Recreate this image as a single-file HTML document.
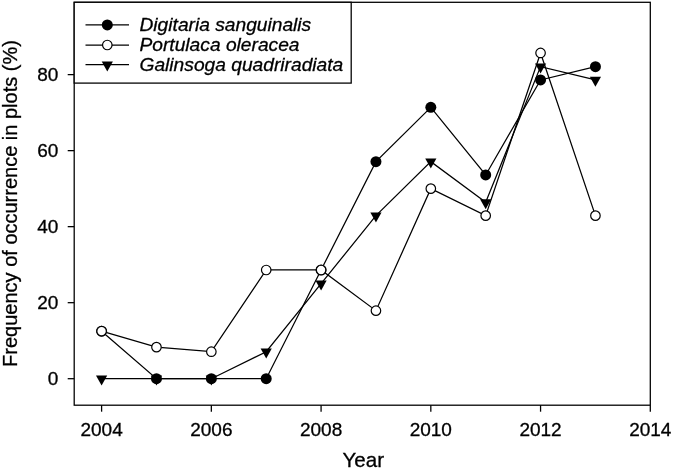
<!DOCTYPE html>
<html><head><meta charset="utf-8"><title>Chart</title>
<style>html,body{margin:0;padding:0;background:#fff}svg{display:block}text{font-family:"Liberation Sans",Arial,sans-serif;fill:#000;stroke:#000;stroke-width:0.3px}</style></head><body>
<svg width="673" height="470" viewBox="0 0 673 470">
<rect width="673" height="470" fill="#fff"/>
<rect x="74.2" y="2.3" width="576.0999999999999" height="402.9" fill="none" stroke="#000" stroke-width="1.28"/>
<line x1="67.7" y1="378.70" x2="74.2" y2="378.70" stroke="#000" stroke-width="1.28"/>
<text x="58.3" y="385.40" font-size="19" text-anchor="end">0</text>
<line x1="67.7" y1="302.68" x2="74.2" y2="302.68" stroke="#000" stroke-width="1.28"/>
<text x="58.3" y="309.38" font-size="19" text-anchor="end">20</text>
<line x1="67.7" y1="226.66" x2="74.2" y2="226.66" stroke="#000" stroke-width="1.28"/>
<text x="58.3" y="233.36" font-size="19" text-anchor="end">40</text>
<line x1="67.7" y1="150.64" x2="74.2" y2="150.64" stroke="#000" stroke-width="1.28"/>
<text x="58.3" y="157.34" font-size="19" text-anchor="end">60</text>
<line x1="67.7" y1="74.62" x2="74.2" y2="74.62" stroke="#000" stroke-width="1.28"/>
<text x="58.3" y="81.32" font-size="19" text-anchor="end">80</text>
<line x1="101.60" y1="405.2" x2="101.60" y2="411.7" stroke="#000" stroke-width="1.28"/>
<text x="101.60" y="435.9" font-size="19" text-anchor="middle">2004</text>
<line x1="211.34" y1="405.2" x2="211.34" y2="411.7" stroke="#000" stroke-width="1.28"/>
<text x="211.34" y="435.9" font-size="19" text-anchor="middle">2006</text>
<line x1="321.08" y1="405.2" x2="321.08" y2="411.7" stroke="#000" stroke-width="1.28"/>
<text x="321.08" y="435.9" font-size="19" text-anchor="middle">2008</text>
<line x1="430.82" y1="405.2" x2="430.82" y2="411.7" stroke="#000" stroke-width="1.28"/>
<text x="430.82" y="435.9" font-size="19" text-anchor="middle">2010</text>
<line x1="540.56" y1="405.2" x2="540.56" y2="411.7" stroke="#000" stroke-width="1.28"/>
<text x="540.56" y="435.9" font-size="19" text-anchor="middle">2012</text>
<line x1="650.30" y1="405.2" x2="650.30" y2="411.7" stroke="#000" stroke-width="1.28"/>
<text x="650.30" y="435.9" font-size="19" text-anchor="middle">2014</text>
<polyline fill="none" stroke="#000" stroke-width="1.25" points="101.60,331.19 156.47,378.70 211.34,378.70 266.21,378.70 321.08,269.99 375.95,161.66 430.82,107.31 485.69,174.97 540.56,79.94 595.43,66.64"/>
<circle cx="101.60" cy="331.19" r="5.5" fill="#000"/>
<circle cx="156.47" cy="378.70" r="5.5" fill="#000"/>
<circle cx="211.34" cy="378.70" r="5.5" fill="#000"/>
<circle cx="266.21" cy="378.70" r="5.5" fill="#000"/>
<circle cx="321.08" cy="269.99" r="5.5" fill="#000"/>
<circle cx="375.95" cy="161.66" r="5.5" fill="#000"/>
<circle cx="430.82" cy="107.31" r="5.5" fill="#000"/>
<circle cx="485.69" cy="174.97" r="5.5" fill="#000"/>
<circle cx="540.56" cy="79.94" r="5.5" fill="#000"/>
<circle cx="595.43" cy="66.64" r="5.5" fill="#000"/>
<polyline fill="none" stroke="#000" stroke-width="1.25" points="101.60,331.19 156.47,347.15 211.34,351.71 266.21,269.99 321.08,269.99 375.95,310.66 430.82,188.65 485.69,215.64 540.56,52.95 595.43,215.64"/>
<circle cx="101.60" cy="331.19" r="4.75" fill="#fff" stroke="#000" stroke-width="1.2"/>
<circle cx="156.47" cy="347.15" r="4.75" fill="#fff" stroke="#000" stroke-width="1.2"/>
<circle cx="211.34" cy="351.71" r="4.75" fill="#fff" stroke="#000" stroke-width="1.2"/>
<circle cx="266.21" cy="269.99" r="4.75" fill="#fff" stroke="#000" stroke-width="1.2"/>
<circle cx="321.08" cy="269.99" r="4.75" fill="#fff" stroke="#000" stroke-width="1.2"/>
<circle cx="375.95" cy="310.66" r="4.75" fill="#fff" stroke="#000" stroke-width="1.2"/>
<circle cx="430.82" cy="188.65" r="4.75" fill="#fff" stroke="#000" stroke-width="1.2"/>
<circle cx="485.69" cy="215.64" r="4.75" fill="#fff" stroke="#000" stroke-width="1.2"/>
<circle cx="540.56" cy="52.95" r="4.75" fill="#fff" stroke="#000" stroke-width="1.2"/>
<circle cx="595.43" cy="215.64" r="4.75" fill="#fff" stroke="#000" stroke-width="1.2"/>
<polyline fill="none" stroke="#000" stroke-width="1.25" points="101.60,378.70 156.47,378.70 211.34,378.70 266.21,351.71 321.08,283.67 375.95,215.64 430.82,161.66 485.69,202.33 540.56,66.64 595.43,79.94"/>
<polygon points="96.00,375.60 107.20,375.60 101.60,385.60" fill="#000"/>
<polygon points="150.87,375.60 162.07,375.60 156.47,385.60" fill="#000"/>
<polygon points="205.74,375.60 216.94,375.60 211.34,385.60" fill="#000"/>
<polygon points="260.61,348.61 271.81,348.61 266.21,358.61" fill="#000"/>
<polygon points="315.48,280.57 326.68,280.57 321.08,290.57" fill="#000"/>
<polygon points="370.35,212.54 381.55,212.54 375.95,222.54" fill="#000"/>
<polygon points="425.22,158.56 436.42,158.56 430.82,168.56" fill="#000"/>
<polygon points="480.09,199.23 491.29,199.23 485.69,209.23" fill="#000"/>
<polygon points="534.96,63.54 546.16,63.54 540.56,73.54" fill="#000"/>
<polygon points="589.83,76.84 601.03,76.84 595.43,86.84" fill="#000"/>
<rect x="74.2" y="2.3" width="277.0" height="80.8" fill="#fff" stroke="#000" stroke-width="1.28"/>
<line x1="85.5" y1="24.9" x2="129" y2="24.9" stroke="#000" stroke-width="1.25"/>
<line x1="85.5" y1="45.0" x2="129" y2="45.0" stroke="#000" stroke-width="1.25"/>
<line x1="85.5" y1="64.7" x2="129" y2="64.7" stroke="#000" stroke-width="1.25"/>
<circle cx="107.3" cy="24.9" r="5.5" fill="#000"/>
<circle cx="107.3" cy="45.0" r="4.75" fill="#fff" stroke="#000" stroke-width="1.2"/>
<polygon points="101.70,61.60 112.90,61.60 107.30,71.60" fill="#000"/>
<text x="139.5" y="31.3" font-size="19.2" font-style="italic">Digitaria sanguinalis</text>
<text x="139.5" y="51.1" font-size="19.2" font-style="italic">Portulaca oleracea</text>
<text x="139.5" y="71.0" font-size="19.2" font-style="italic">Galinsoga quadriradiata</text>
<text x="363.2" y="467.2" font-size="20.6" text-anchor="middle">Year</text>
<text transform="translate(16.5,203.5) rotate(-90)" font-size="20" text-anchor="middle">Frequency of occurrence in plots (%)</text>
</svg></body></html>
